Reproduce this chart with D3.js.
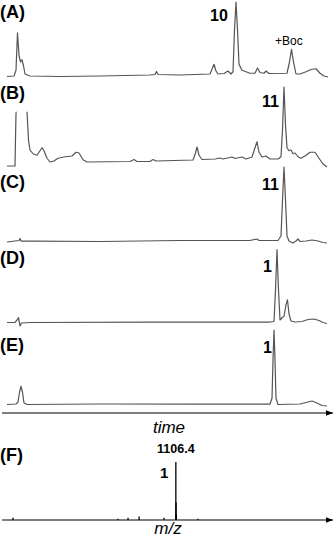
<!DOCTYPE html>
<html><head><meta charset="utf-8">
<script src="https://cdn.jsdelivr.net/npm/d3@7/dist/d3.min.js"></script>
<style>body{margin:0;background:#fff}svg{display:block}</style>
</head><body>
<script>
// ---- data (time in min, intensity in % of panel max) ----
const panelLabels = ["(A)", "(B)", "(C)", "(D)", "(E)"];
const traceA = [[0,0.7],[0.7,1.3],[0.9,9],[1.05,59],[1.2,29],[1.35,20],[1.5,23],[1.65,15],[1.8,4],[2.3,1.3],[5.3,0.7],[9.3,1.3],[14.3,2.7],[14.8,3.3],[14.95,7.3],[15.1,3.3],[17.3,2.7],[20.3,4],[20.55,12],[20.7,17],[20.9,8],[21.1,4],[21.7,4.7],[22.1,8],[22.4,4],[22.6,7],[22.75,63],[22.9,100],[23.05,63],[23.2,17],[23.5,9],[24.3,5],[24.8,5],[25.05,12],[25.3,6],[25.7,5],[25.9,8],[26.2,4.7],[28.0,5],[28.25,20],[28.45,37],[28.65,20],[28.9,4],[29.3,4],[29.9,7],[30.4,10],[30.9,11],[31.3,5],[31.7,1.3],[32.1,0]];
const traceB = [[0,-5.3],[0.8,-5.3],[0.9,65],[0.93,67],null,[2.0,67],[2.15,29],[2.3,16],[2.6,11],[3.0,9],[3.3,15],[3.5,19],[3.7,15],[4.0,5],[4.3,0],[4.7,1.3],[5.1,5],[5.8,7],[6.5,8],[6.9,13],[7.2,12],[7.6,3],[8.0,0],[12.3,0.7],[12.7,3.3],[13.0,0.7],[14.3,0.7],[14.6,3.3],[14.9,1.3],[18.6,2.7],[18.85,12],[19.0,20],[19.2,9],[19.5,3.3],[20.8,4],[21.3,5.3],[21.6,4],[22.5,6.7],[22.8,4.7],[23.5,6.7],[23.9,4],[24.5,6.7],[24.8,19],[25.0,27],[25.2,13],[25.5,6.7],[25.9,8],[26.3,4],[27.1,4],[27.4,7],[27.55,43],[27.7,100],[27.85,49],[28.0,19],[28.2,15],[28.4,16],[28.6,11],[28.8,12],[29.1,7],[29.4,5],[29.8,8],[30.3,13],[30.8,13],[31.2,5],[31.6,-2.7],[32.0,-6.7]];
const traceC = [[0,0],[0.8,1.3],[1.2,2],[1.3,4.7],[1.4,1.3],[2.5,1.3],[9.3,0.7],[17.3,2],[24.3,2],[25.0,4],[25.2,2],[27.1,2],[27.4,8],[27.55,56],[27.7,100],[27.85,56],[28.0,8],[28.2,1.3],[28.6,-1.3],[28.9,1.3],[29.1,4],[29.3,0.7],[29.9,1.3],[30.5,2.7],[31.1,1.3],[31.6,-0.7],[32.0,-1.3]];
const traceD = [[0,0.7],[0.8,0.7],[1.0,4],[1.15,7.3],[1.3,-4],[1.45,0],[2.3,0.7],[14.3,1.3],[26.3,1.3],[26.7,2],[26.85,44],[27.0,98],[27.15,44],[27.3,4],[27.5,7],[27.7,9],[27.9,24],[28.05,31],[28.2,12],[28.4,2.7],[28.8,1.3],[29.5,2],[30.1,4.7],[30.7,5.3],[31.2,3.3],[31.6,0.7],[32.0,-0.7]];
const traceE = [[0,0.7],[0.9,1.3],[1.1,4],[1.25,17],[1.4,25],[1.55,17],[1.7,2.7],[2.0,0.7],[9.3,1.3],[19.3,1.3],[26.3,1.3],[26.5,9],[26.6,60],[26.7,100],[26.8,60],[26.9,9],[27.1,0.7],[29.3,1.3],[29.9,3.3],[30.5,5.3],[31.0,2.7],[31.5,-0.7],[32.0,-1.3]];
const peakNames = ["10", "11", "11", "1", "1"];
const msMz = [396, 854, 898, 946, 1055, 1106.4, 1107.4, 1108.4, 1203];
const msInt = [4, 2, 4, 6, 4, 100, 30, 10, 2];
const msPeakLabel = "1106.4";

// ---- layout ----
const W = 335, H = 538;
const FONT = "Liberation Sans, Arial, sans-serif";
const svg = d3.select("body").append("svg").attr("width", W).attr("height", H);
const x = d3.scaleLinear().domain([0, 32]).range([7, 327]);
const baselines = [77, 162, 242, 323, 405];
const traces = [traceA, traceB, traceC, traceD, traceE];
const labelY = [18, 99, 188, 264, 351];
const peakLabelY = [21, 107, 190, 272, 353];
const peakLabelX = [210, 262, 262, 263, 263];

traces.forEach((tr, i) => {
  const y = d3.scaleLinear().domain([0, 100]).range([baselines[i], baselines[i] - 75]);
  const line = d3.line().defined(d => d !== null).x(d => x(d[0])).y(d => y(d[1]));
  svg.append("path").attr("d", line(tr)).attr("fill", "none")
    .attr("stroke", "#555").attr("stroke-width", 1.2).attr("stroke-linejoin", "round");
  svg.append("text").attr("x", 0).attr("y", labelY[i]).text(panelLabels[i])
    .attr("font-family", FONT).attr("font-weight", "bold").attr("font-size", 18);
  svg.append("text").attr("x", peakLabelX[i]).attr("y", peakLabelY[i]).text(peakNames[i])
    .attr("font-family", FONT).attr("font-weight", "bold").attr("font-size", 16);
});
svg.append("text").attr("x", 275).attr("y", 45).text("+Boc")
  .attr("font-family", FONT).attr("font-size", 12);

// arrow marker
svg.append("defs").append("marker").attr("id", "arr").attr("viewBox", "0 0 10 10")
  .attr("refX", 10).attr("refY", 5).attr("markerWidth", 7).attr("markerHeight", 7)
  .attr("markerUnits", "userSpaceOnUse").attr("orient", "auto")
  .append("path").attr("d", "M0,1L10,5L0,9z").attr("fill", "#000");

function arrowAxis(yy) {
  svg.append("line").attr("x1", 2).attr("x2", 333).attr("y1", yy).attr("y2", yy)
    .attr("stroke", "#000").attr("stroke-width", 1.2).attr("marker-end", "url(#arr)");
}
arrowAxis(413);
svg.append("text").attr("x", 169).attr("y", 433).attr("text-anchor", "middle").text("time")
  .attr("font-family", FONT).attr("font-style", "italic").attr("font-size", 17);

// ---- mass spectrum (F) ----
const mx = d3.scaleLinear().domain([370, 1770]).range([7, 328]);
const my = d3.scaleLinear().domain([0, 100]).range([520, 462]);
svg.append("g").selectAll("line").data(msMz.map((m, i) => [m, msInt[i]])).join("line")
  .attr("x1", d => mx(d[0])).attr("x2", d => mx(d[0]))
  .attr("y1", my(0)).attr("y2", d => my(d[1]))
  .attr("stroke", "#000").attr("stroke-width", 1.3);
arrowAxis(520);
svg.append("text").attr("x", 0).attr("y", 461).text("(F)")
  .attr("font-family", FONT).attr("font-weight", "bold").attr("font-size", 18);
svg.append("text").attr("x", mx(1106.4)).attr("y", 453).attr("text-anchor", "middle").text(msPeakLabel)
  .attr("font-family", FONT).attr("font-weight", "bold").attr("font-size", 12.5);
svg.append("text").attr("x", 160).attr("y", 478).text("1")
  .attr("font-family", FONT).attr("font-weight", "bold").attr("font-size", 15);
svg.append("text").attr("x", 168).attr("y", 534).attr("text-anchor", "middle").text("m/z")
  .attr("font-family", FONT).attr("font-style", "italic").attr("font-size", 17);
</script>
</body></html>
